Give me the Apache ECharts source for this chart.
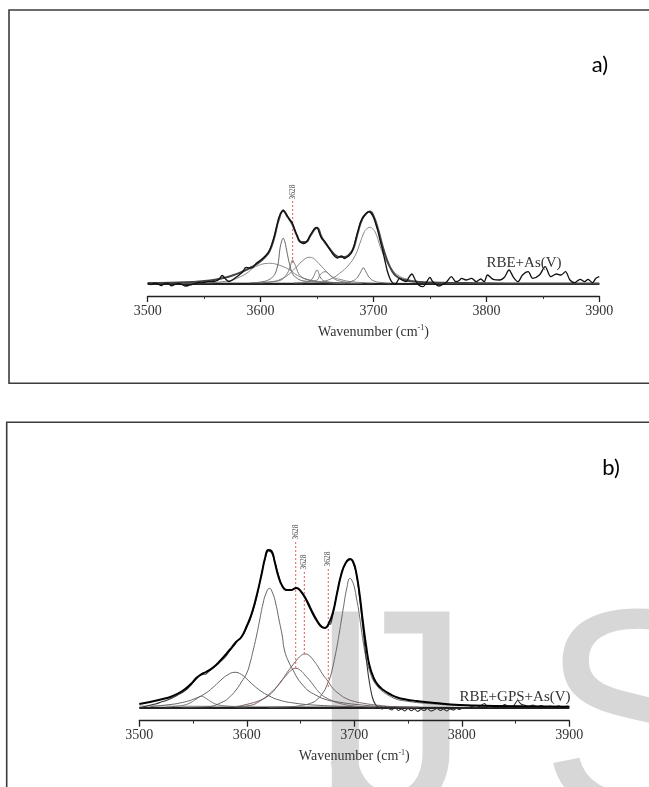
<!DOCTYPE html>
<html><head><meta charset="utf-8">
<script src="https://cdn.jsdelivr.net/npm/echarts/dist/echarts.min.js"></script>
<style>html,body{margin:0;padding:0;background:#fff}#c{width:649px;height:787px}</style>
</head><body><div id="c"></div>
<script>
// ---------- data (x = wavenumber cm^-1, y = absorbance, arbitrary units) ----------
const xTickValues = [3500, 3600, 3700, 3800, 3900];
const panelLabels = ['a)', 'b)'];
const sampleNames = ['RBE+As(V)', 'RBE+GPS+As(V)'];
const markerText = '3628';
const watermark = ['I', 'J', 'S'];

// Panel a
const specA = [[3500,0.3],[3503,-0.5],[3506,0.8],[3509,0.2],[3512,-1.5],[3515,0.5],[3518,0.8],[3521,-1.8],[3524,-0.5],[3527,0.5],[3530,-0.3],[3533,-2],[3536,-1.5],[3539,-0.5],[3542,0.3],[3545,1.5],[3548,1.2],[3551,1.8],[3554,2.5],[3557,2.3],[3560,2.8],[3563,4.5],[3566,8.5],[3569,5],[3572,2.5],[3575,4],[3578,6.5],[3581,9],[3584,12],[3587,16.5],[3590,16],[3593,16.5],[3596,20.5],[3599,23],[3602,25.7],[3605,29],[3608,34],[3610,40],[3612,47.3],[3614,56],[3616,65.7],[3618,71],[3620,74],[3622,71.5],[3624,67.3],[3626,64],[3628,61.3],[3630,55],[3632,49],[3634,44],[3636,41.3],[3638,40.5],[3640,41.3],[3642,44.5],[3644,49],[3646,52.5],[3648,55.7],[3650,56.7],[3652,51],[3654,45.7],[3656,43.5],[3658,40.7],[3660,37],[3662,33.3],[3664,30],[3666,27.3],[3668,26],[3670,27.5],[3672,28],[3674,25.5],[3676,26.5],[3678,28],[3680,30.5],[3682,35.5],[3684,43.5],[3686,52],[3688,60],[3690,65.5],[3692,68.5],[3694,71],[3696,72.3],[3698,70.5],[3700,66.7],[3702,60],[3704,52.3],[3706,43],[3708,34],[3710,24],[3712,14],[3714,7],[3716,2.3],[3718,0.5],[3720,0.7],[3723,5.7],[3726,3.5],[3729,2.3],[3731,6],[3734,10],[3737,4],[3740,-1],[3744,-2.7],[3747,2],[3750,6.7],[3752,3],[3754,0.7],[3758,-2],[3762,0],[3765,2.3],[3769,7.3],[3773,2.3],[3776,3.5],[3778,5.7],[3782,4],[3785,5],[3787,5.7],[3791,2.3],[3795,5],[3798,2.3],[3801,9],[3806,4.7],[3812,4],[3816,6.7],[3820,14],[3824,6.7],[3828,2.3],[3832,9],[3837,12.3],[3841,5.7],[3847,9],[3852,17.3],[3857,7.3],[3862,10],[3866,9],[3870,12.3],[3874,4],[3878,1.3],[3883,4.7],[3887,2.3],[3890,4.7],[3894,1.3],[3897,5.7],[3900,7.3]];
const fitA = [[3500,1],[3520,1.3],[3540,2],[3555,3.5],[3565,5.5],[3575,8.5],[3585,13],[3592,17],[3598,21],[3604,27],[3608,33],[3612,46],[3616,64],[3620,73],[3624,67],[3628,60],[3632,49],[3636,42],[3640,42],[3644,48],[3648,55],[3650,56],[3654,47],[3658,40],[3662,34],[3666,29],[3670,27],[3674,27],[3678,29],[3682,35],[3686,51],[3690,65],[3694,71],[3697,72.5],[3700,68],[3704,55],[3708,38],[3712,24],[3716,14],[3720,8],[3726,4.5],[3735,2.5],[3750,1.5],[3780,1],[3820,0.6],[3900,0.4]];
const compA1 = [[3530,0.6],[3545,1],[3558,1.3],[3566,2.3],[3573,3.3],[3582,7.3],[3588,11],[3593,15.7],[3598,18.5],[3602,20],[3606,20.6],[3609,20.7],[3614,19.7],[3620,17.3],[3626,14],[3630,10.5],[3635,7.3],[3641,4.8],[3647,3.3],[3655,2.2],[3665,1.3],[3690,0.6]];
const compA2 = [[3590,1],[3602,2.3],[3608,4.7],[3611,7.5],[3613,10.7],[3615,18],[3616,24],[3617,34],[3618.5,42],[3620,45.7],[3621.5,42],[3623,34],[3624.5,25.5],[3625.5,20.7],[3627,14],[3629,9],[3632,6],[3635,4],[3640,2.8],[3650,1.8],[3670,0.8]];
const compA3 = [[3600,1],[3612,2.5],[3618,4],[3621.5,7.3],[3624.5,12.3],[3626,17],[3627.3,21.5],[3628.4,24],[3629.5,21.5],[3631.3,17.3],[3633.5,10.7],[3636,7.3],[3638,5.7],[3645,3.3],[3655,1.8],[3675,0.8]];
const compA4 = [[3595,1.2],[3610,2.3],[3620,6],[3626,10.7],[3632,17.3],[3638,24],[3643,26.7],[3647,25.5],[3650,22.3],[3655.6,15.7],[3661.5,9],[3666,6],[3670,4.7],[3680,2.3],[3700,1]];
const compA5 = [[3630,1],[3640,2],[3644,3.3],[3646.8,7.3],[3648.5,11.5],[3650,14],[3651.3,11.5],[3652.6,7.3],[3656,3.3],[3662,1.8],[3675,0.7]];
const compA6 = [[3635,1],[3645,2.5],[3650,4],[3652.6,9],[3655,11.5],[3657,12.3],[3659,11.5],[3661.5,8.7],[3666,4.7],[3672,2.5],[3680,1.2]];
const compA7 = [[3670,1],[3677,1.8],[3680.7,2.7],[3685,5.7],[3688,10.7],[3690,15],[3691,16.3],[3692,15],[3694,10.7],[3697,5.7],[3701,2.7],[3706,1.6],[3715,0.8]];
const compA8 = [[3630,1.2],[3645,2],[3652,2.3],[3661.5,4.7],[3670,10.7],[3678,19],[3684,29],[3688,40.7],[3692,52.3],[3695,56],[3697,56.7],[3699,55.5],[3702,50.7],[3706.5,35.7],[3711,24],[3715.6,15.7],[3721.5,9],[3730,4.7],[3742,2.3],[3760,1.2],[3800,0.5]];
const baseA = [[3500,0],[3900,0]];
const baseA2 = [[3500,1.3],[3900,0.2]];
const markersA = [[3628.4, 21, 84]]; // [wavenumber, lower, upper]

// Panel b
const specB = [[3500,0.5],[3505,1.5],[3510,2.8],[3515,4],[3520,5.8],[3525,7.5],[3530,9.8],[3535,12.5],[3540,15.5],[3545,19.5],[3549,24],[3553,29],[3556,32],[3559,33.5],[3562,34],[3565,37],[3568,39.5],[3572,43],[3576,47],[3580,51],[3584,57],[3588,62],[3591,67],[3594,70],[3597,74],[3600,81],[3603,88],[3606,98],[3609,110],[3612,125],[3615,141],[3618,153],[3620,157],[3622,156.5],[3624,153],[3627,143],[3630,131],[3633,122],[3636,118],[3640,117.5],[3644,119.5],[3647,120],[3650,117],[3654,110],[3658,101],[3662,92],[3666,85],[3669,81],[3672,80.5],[3674,81],[3676,83.5],[3678,84],[3680,93],[3683,110],[3686,126],[3689,138],[3692,145],[3695,148],[3697,148.5],[3699,145],[3702,134],[3705,110],[3708,80],[3711,50],[3714,26],[3717,10],[3720,3],[3723,0.5],[3726,-1],[3729,1],[3732,-0.5],[3735,-2],[3738,1],[3741,-2.5],[3744,-1],[3747,-3],[3750,-0.5],[3753,-2.8],[3756,-1],[3759,-3.5],[3762,-1.5],[3765,-2.5],[3768,-0.5],[3771,-3],[3774,-2],[3777,-0.5],[3780,-2.5],[3783,-1],[3786,-3],[3789,-1],[3792,-2],[3795,-0.5],[3798,-1.5],[3801,0.5],[3805,-0.5],[3809,1.5],[3813,0.3],[3817,2],[3821,4.5],[3824,1],[3828,0.5],[3832,2.5],[3836,1],[3840,3.5],[3844,0.8],[3848,2],[3852,7.5],[3855,4],[3858,3],[3862,1.5],[3866,3],[3870,1],[3874,2.5],[3878,0.5],[3882,2],[3886,0.8],[3890,2.2],[3894,0.5],[3898,2],[3900,1.5]];
const fitB = [[3500,4],[3510,6],[3520,8.5],[3530,11.5],[3540,17],[3548,24],[3553,30],[3558,34],[3562,36],[3568,40],[3575,47],[3584,58],[3590,66],[3595,71],[3600,82],[3605,96],[3610,116],[3614,135],[3617,150],[3620,158],[3623,157],[3626,146],[3629,133],[3633,122],[3637,118],[3641,118],[3646,120],[3650,117],[3655,109],[3660,98],[3665,88],[3670,81],[3673,80],[3676,84],[3680,95],[3684,115],[3688,134],[3692,145],[3696,149],[3699,146],[3702,134],[3705,113],[3708,86],[3711,62],[3714,43],[3718,30],[3722,23],[3727,18],[3733,14],[3740,10.5],[3748,8.5],[3758,7],[3775,5],[3798,3],[3830,2],[3900,1.2]];
const compB1 = [[3525,1],[3535,1.8],[3542,3],[3548,5.5],[3553,9],[3556,11],[3558,11.7],[3560,11],[3563,9],[3568,5.5],[3574,3],[3582,1.8],[3600,0.8]];
const compB2 = [[3510,1.5],[3525,3],[3540,5.5],[3552,9.5],[3562,15],[3570,22],[3576,28],[3582,33],[3589,35.7],[3595,33.5],[3600,29],[3606,23],[3613,17],[3620,12.5],[3630,8],[3645,4.8],[3665,2.8],[3700,1.3]];
const compB3 = [[3540,0.8],[3563,1.3],[3578,6.3],[3584,11],[3590,18],[3595,26],[3600,35],[3603,45],[3606,58],[3609,72],[3612,88],[3615,104],[3618,115],[3621,119.7],[3624,115],[3627,104],[3630,88],[3633,72],[3635,58],[3639,46],[3643,38],[3647,30],[3652,23],[3657,17.5],[3664,13],[3672,9],[3683,6.3],[3707,3],[3731,1.3],[3760,0.8]];
const compB4 = [[3590,1.2],[3606,5.3],[3613,8],[3619,11.3],[3624,16],[3628,21.3],[3632,27],[3637,33],[3641,37.5],[3645.5,39.7],[3650,37.5],[3654,33],[3659,27],[3663,21.3],[3667,16],[3672,11.3],[3679,7.5],[3686,4.7],[3700,2],[3720,1]];
const compB5 = [[3590,1],[3605,3],[3610,5.5],[3616,9.7],[3622,15],[3628,21.3],[3633,28],[3637,34.7],[3642,42],[3646.5,48],[3650,52],[3654,54],[3658,52.5],[3663,46.3],[3667,40],[3671,33],[3676,26],[3680,19.7],[3686,14],[3692,9.7],[3700,6.5],[3707,5],[3720,3],[3738,1.3],[3760,0.8]];
const compB6 = [[3620,0.8],[3640,1.3],[3653,3],[3660,5],[3665,8],[3671.5,16.3],[3675,24],[3677.7,31.3],[3680,41],[3682,51.3],[3684,62],[3686,74.7],[3688,88],[3690,101.3],[3693,119.7],[3696,129.7],[3698,127],[3700,121],[3702,110],[3704,98],[3706,83],[3708,68],[3710,55],[3712,44.7],[3715,35],[3717.5,28],[3722,21],[3727,16],[3733,12],[3740,8.5],[3748,7],[3758,5.5],[3775,4],[3790,3],[3820,2],[3860,1.3],[3900,1]];
const baseB = [[3500,0],[3900,0]];
const baseB2 = [[3500,2],[3900,0.5]];
const markersB = [[3645.5, 40, 168], [3653.5, 54, 138], [3675.8, 21, 141]];

// ---------- chart ----------
const chart = echarts.init(document.getElementById('c'), null, {renderer: 'canvas'});
const SERIF = '"Liberation Serif", "Times New Roman", serif';

function ln(data, g, color, width, z, smooth) {
  return {type: 'line', xAxisIndex: g, yAxisIndex: g, data: data, symbol: 'none', showSymbol: false,
    smooth: smooth, silent: true, z: z, lineStyle: {color: color, width: width}, animation: false};
}
function dash(m, g) {
  return {type: 'line', xAxisIndex: g, yAxisIndex: g, data: [[m[0], m[1]], [m[0], m[2]]], symbol: 'none',
    silent: true, z: 4, lineStyle: {color: '#e35a5a', width: 1, type: [2, 2]}, animation: false};
}
function xAx(g) {
  return {type: 'value', gridIndex: g, min: 3500, max: 3900, interval: 100, position: 'bottom',
    axisLine: {onZero: false, lineStyle: {color: '#222', width: 1.3}},
    axisTick: {length: 6, lineStyle: {color: '#222', width: 1.3}},
    minorTick: {show: true, splitNumber: 2, length: 3, lineStyle: {color: '#333', width: 1}},
    splitLine: {show: false}, minorSplitLine: {show: false},
    axisLabel: {margin: 8, fontFamily: SERIF, fontSize: 14, color: '#333',
      formatter: function (v) { return xTickValues.indexOf(v) >= 0 ? String(v) : ''; }},
    name: '{a|Wavenumber (cm}{s|-1}{a|)}', nameLocation: 'middle', nameGap: 28,
    nameTextStyle: {rich: {
      a: {fontFamily: SERIF, fontSize: 14, color: '#333', lineHeight: 16},
      s: {fontFamily: SERIF, fontSize: 8, color: '#333', lineHeight: 9, verticalAlign: 'top'}}}
  };
}
const option = {
  animation: false,
  backgroundColor: '#fff',
  grid: [
    {left: 147.7, width: 451.6, top: 84, height: 212},
    {left: 139.3, width: 430, top: 508, height: 212.7}
  ],
  xAxis: [xAx(0), xAx(1)],
  yAxis: [
    {type: 'value', gridIndex: 0, min: -12, max: 200, show: false},
    {type: 'value', gridIndex: 1, min: -12.7, max: 200, show: false}
  ],
  series: [
    ln(baseA2, 0, '#888', 1, 2, false),
    ln(baseA, 0, '#222', 1.8, 2, false),
    ln(compA1, 0, '#777', 0.9, 3, 0.5),
    ln(compA2, 0, '#555', 0.9, 3, 0.5),
    ln(compA3, 0, '#666', 0.9, 3, 0.5),
    ln(compA4, 0, '#777', 0.9, 3, 0.5),
    ln(compA5, 0, '#666', 0.9, 3, 0.5),
    ln(compA6, 0, '#777', 0.9, 3, 0.5),
    ln(compA7, 0, '#666', 0.9, 3, 0.5),
    ln(compA8, 0, '#888', 1, 3, 0.5),
    ln(fitA, 0, '#444', 2, 5, 0.5),
    ln(specA, 0, '#111', 1.3, 6, 0.3),
    dash(markersA[0], 0),

    ln(baseB2, 1, '#999', 1, 2, false),
    ln(baseB, 1, '#222', 1.8, 2, false),
    ln(compB1, 1, '#666', 0.9, 3, 0.5),
    ln(compB2, 1, '#555', 0.9, 3, 0.5),
    ln(compB3, 1, '#555', 0.9, 3, 0.5),
    ln(compB4, 1, '#6a5656', 0.9, 3, 0.5),
    ln(compB5, 1, '#6a5656', 0.9, 3, 0.5),
    ln(compB6, 1, '#666', 1, 3, 0.5),
    ln(specB, 1, '#333', 1.1, 5, 0.3),
    ln(fitB, 1, '#000', 2, 6, 0.5),
    dash(markersB[0], 1), dash(markersB[1], 1), dash(markersB[2], 1)
  ]
};
chart.setOption(option);

// ---------- annotations ----------
const gfx = [];
const WM = '#d7d7d7';
const WMFONT = '290px "Liberation Sans"';
// watermark letters (behind the curves)
[[305, watermark[0]], [326, watermark[1]], [540, watermark[2]]].forEach(function (w) {
  gfx.push({type: 'text', z: 0, x: w[0], y: 731, style: {text: w[1], font: WMFONT, fill: WM,
    textAlign: 'left', align: 'left', textVerticalAlign: 'middle', verticalAlign: 'middle'}});
});
// panel frames
gfx.push({type: 'polyline', z: 1, shape: {points: [[700, 10], [9, 10], [9, 383.3], [700, 383.3]]}, style: {stroke: '#3c3c3c', lineWidth: 1.6, fill: null}});
gfx.push({type: 'polyline', z: 1, shape: {points: [[700, 422.3], [6.7, 422.3], [6.7, 800]]}, style: {stroke: '#3c3c3c', lineWidth: 1.6, fill: null}});
// panel letters
gfx.push({type: 'text', z: 10, x: 600, y: 65, style: {text: panelLabels[0], font: '22px Lato', fill: '#000', textAlign: 'center', align: 'center', textVerticalAlign: 'middle', verticalAlign: 'middle'}});
gfx.push({type: 'text', z: 10, x: 611, y: 468, style: {text: panelLabels[1], font: '22px Lato', fill: '#000', textAlign: 'center', align: 'center', textVerticalAlign: 'middle', verticalAlign: 'middle'}});
// sample names
gfx.push({type: 'text', z: 10, x: 524, y: 263, style: {text: sampleNames[0], font: '15px ' + SERIF, fill: '#333', textAlign: 'center', align: 'center', textVerticalAlign: 'middle', verticalAlign: 'middle'}});
gfx.push({type: 'text', z: 10, x: 515, y: 697, style: {text: sampleNames[1], font: '15px ' + SERIF, fill: '#333', textAlign: 'center', align: 'center', textVerticalAlign: 'middle', verticalAlign: 'middle'}});
// rotated marker labels, placed through the grid scales
function markLabel(m, g) {
  const p = chart.convertToPixel({gridIndex: g}, [m[0], m[2]]);
  gfx.push({type: 'text', z: 10, x: p[0], y: p[1] - 8, rotation: Math.PI / 2,
    style: {text: markerText, font: '7.5px ' + SERIF, fill: '#444', textAlign: 'center', align: 'center', textVerticalAlign: 'middle', verticalAlign: 'middle'}});
}
markersA.forEach(function (m) { markLabel(m, 0); });
markersB.forEach(function (m) { markLabel(m, 1); });
chart.setOption({graphic: {elements: gfx}});
</script>
</body></html>
